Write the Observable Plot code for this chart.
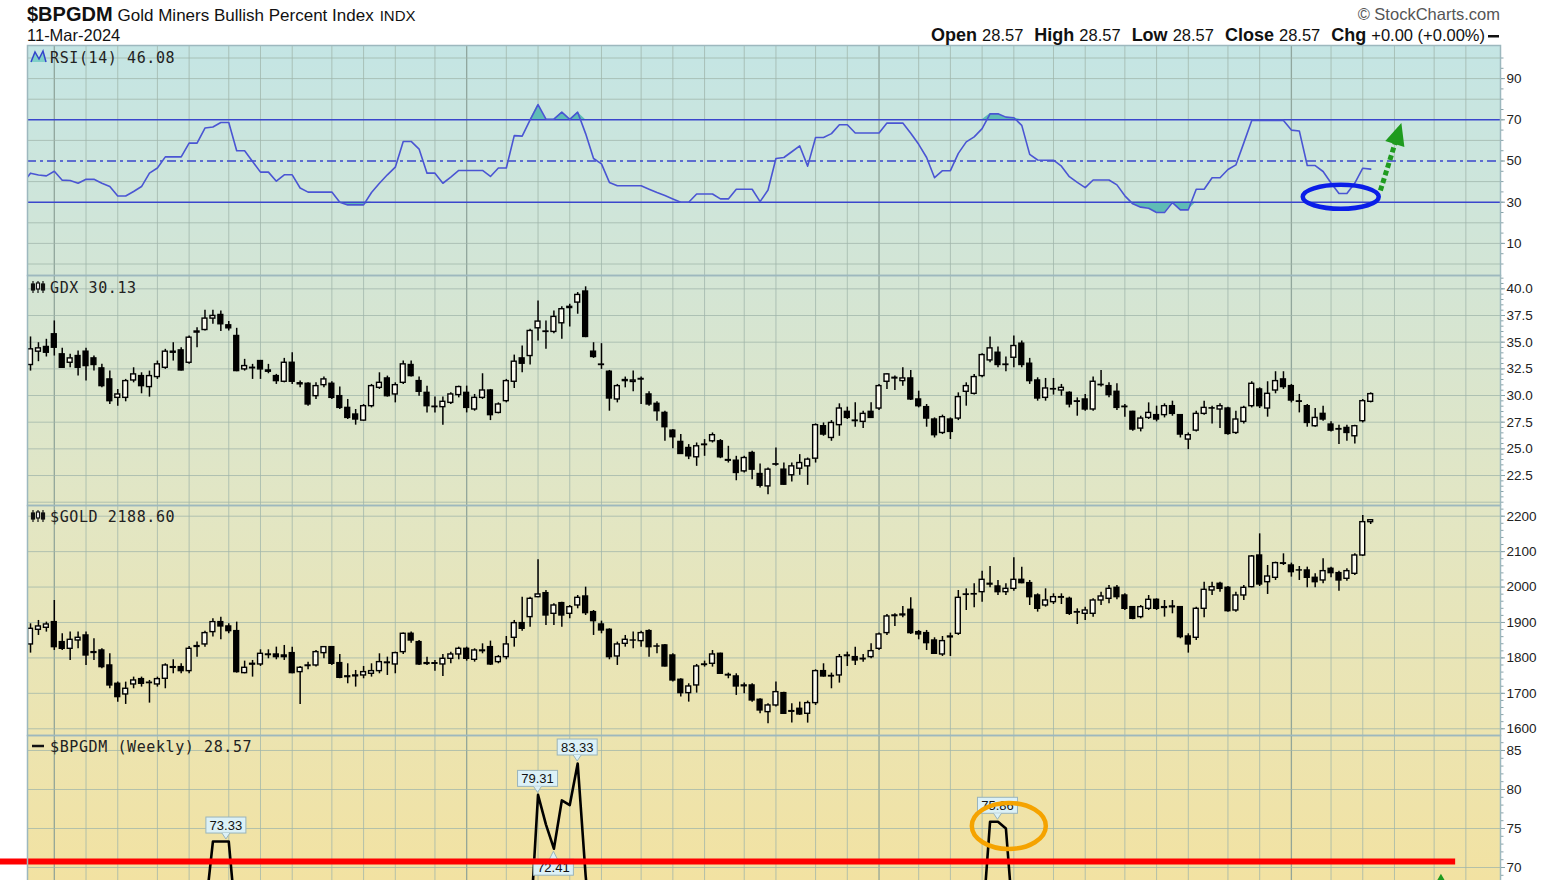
<!DOCTYPE html>
<html><head><meta charset="utf-8">
<script src="https://cdn.jsdelivr.net/npm/d3@7"></script>
<script src="https://cdn.jsdelivr.net/npm/@observablehq/plot@0.6"></script>
<style>
html,body{margin:0;padding:0;background:#fff;overflow:hidden;width:1568px;height:880px;}
#root{position:relative;width:1568px;height:880px;overflow:hidden;}
#bg{position:absolute;left:27px;top:45px;width:1473px;height:835px;
 background:linear-gradient(to bottom,#c4e5e4 0px,#d3e5d5 230px,#e2e6c4 460px,#ece4b0 690px,#f2e2a2 835px);}
#panels svg{position:absolute;left:0;}
#overlay{position:absolute;left:0;top:0;pointer-events:none;}
</style></head>
<body><div id="root"><div id="bg"></div><div id="panels"></div><svg id="overlay" width="1568" height="880"></svg></div>
<script>
// ---------------- DATA ----------------
const firstWeek = "2020-12-14";           // first weekly bar
const lastDateLabel = "11-Mar-2024";
// GDX weekly [open, high, low, close]
const gdx = [
[32.86,35.49,32.29,34.33],[34.11,34.95,33.17,34.42],[34.55,35.27,33.61,34.01],[35.74,36.99,33.70,34.48],[33.86,34.42,32.54,32.60],
[33.07,33.86,32.60,33.48],[33.70,34.17,31.82,32.60],[34.11,34.42,31.35,32.76],[33.48,33.70,32.29,32.86],[32.54,32.92,30.72,30.88],
[31.51,32.29,29.16,29.47],[29.78,30.57,29.00,30.10],[29.78,31.51,29.41,31.35],[31.41,32.60,31.19,31.98],[31.82,32.13,30.16,30.88],
[30.79,32.29,29.85,31.82],[31.73,33.23,31.51,32.92],[32.60,34.33,32.45,34.11],[34.11,34.95,33.23,34.01],[34.23,34.48,32.29,32.35],
[33.07,35.58,32.92,35.42],[35.90,36.36,34.48,36.00],[36.14,37.99,36.05,37.21],[37.21,37.99,36.68,37.46],[37.55,37.93,35.99,36.68],
[36.58,36.93,36.05,36.30],[35.58,36.30,32.23,32.29],[32.45,33.39,32.29,32.76],[32.60,32.92,31.51,32.55],[33.23,33.29,31.51,32.45],
[32.35,32.92,32.04,32.23],[31.82,31.98,31.04,31.35],[31.29,33.48,31.19,33.07],[33.07,34.01,31.04,31.29],[31.15,31.35,30.72,31.05],
[31.10,31.19,29.00,29.16],[29.94,31.19,29.63,30.88],[30.97,31.73,30.72,31.51],[31.10,31.29,29.63,29.78],[29.94,30.79,28.69,28.84],
[28.84,29.63,27.75,27.90],[28.22,28.69,27.22,27.75],[27.65,29.16,27.59,29.00],[29.00,31.04,28.84,30.88],[30.72,32.13,30.57,31.19],
[31.60,31.82,29.85,29.94],[30.10,31.19,29.31,30.97],[31.19,33.23,31.04,32.92],[32.86,33.23,31.73,31.82],[31.35,31.73,29.94,30.35],
[30.25,30.88,28.37,29.00],[28.91,29.85,28.37,28.95],[28.91,29.85,27.22,29.41],[29.31,30.25,29.16,30.10],[30.04,30.88,29.78,30.79],
[30.25,30.88,28.37,28.84],[28.69,30.10,28.53,29.78],[29.78,32.04,29.63,30.47],[30.47,30.57,27.65,28.16],[28.37,29.31,28.28,29.16],
[29.47,31.51,29.31,31.35],[31.29,33.79,30.66,33.17],[33.48,34.64,32.13,32.98],[33.70,36.21,32.86,36.05],[36.30,38.87,35.11,36.93],
[36.00,36.99,34.33,35.96],[35.96,37.93,35.80,37.37],[36.77,38.31,35.27,38.09],[38.20,38.56,36.43,38.31],[38.71,39.65,37.62,39.43],
[39.75,40.19,35.42,35.49],[34.11,34.95,33.48,33.61],[32.90,34.86,32.45,32.86],[32.23,32.35,28.53,29.72],[29.63,31.04,29.31,30.88],
[31.35,31.73,30.72,31.45],[31.27,32.29,30.35,31.41],[31.55,31.73,29.16,31.50],[30.10,30.35,29.00,29.16],[29.22,29.41,27.59,28.53],
[28.37,28.53,25.71,27.03],[26.71,26.81,25.02,26.09],[25.65,26.34,24.46,24.52],[25.08,25.40,23.99,24.30],[24.21,25.55,23.36,25.24],
[25.35,25.87,24.30,25.40],[25.71,26.49,25.55,26.28],[25.71,25.87,24.08,24.21],[23.95,25.24,23.67,23.89],[23.89,24.30,22.01,22.74],
[22.89,24.30,22.74,24.14],[24.61,24.77,22.11,23.05],[22.64,23.58,21.33,21.54],[21.48,23.20,20.70,23.05],[23.55,25.08,23.36,23.52],
[23.05,23.67,21.58,21.64],[22.52,23.67,21.89,23.36],[23.14,24.46,22.52,23.67],[23.36,24.14,21.58,23.99],[24.08,27.34,23.67,27.22],
[27.12,27.43,26.18,26.34],[26.02,27.65,25.71,27.43],[27.22,29.22,26.18,28.78],[28.47,28.91,27.75,27.90],[27.60,29.31,27.03,27.65],
[27.53,28.53,26.90,28.28],[28.47,29.31,27.84,27.90],[28.78,31.04,28.59,30.88],[31.29,32.04,30.57,31.98],[31.60,31.82,30.47,31.66],
[31.35,32.60,30.88,31.60],[31.60,32.35,29.53,29.63],[29.63,30.41,28.84,29.00],[28.91,29.16,27.03,27.84],[27.75,27.90,26.02,26.28],
[26.49,28.16,26.34,27.97],[27.75,27.90,25.87,26.59],[27.84,30.25,27.65,29.85],[30.35,31.19,29.00,30.88],[30.16,31.98,30.04,31.73],
[31.82,33.92,31.66,33.79],[33.29,35.49,33.07,34.42],[34.01,34.55,32.60,32.86],[32.90,33.61,32.23,32.86],[33.54,35.58,32.60,34.64],
[34.86,35.11,32.60,32.86],[32.98,33.48,31.04,31.35],[31.41,31.66,29.47,29.72],[29.78,31.60,29.47,30.66],[30.60,31.60,30.04,30.57],
[30.47,31.04,29.94,30.72],[30.25,30.35,28.84,29.16],[29.45,29.78,28.06,29.41],[29.63,30.10,28.53,28.69],[28.69,31.73,28.53,31.29],
[31.00,32.35,30.79,30.97],[30.88,31.19,29.78,30.04],[30.35,31.10,28.59,28.84],[28.95,29.16,27.97,28.91],[28.47,28.53,26.65,26.81],
[26.90,28.06,26.59,27.84],[27.90,29.31,27.75,28.37],[28.16,29.00,27.53,27.75],[28.16,29.22,27.90,29.00],[29.00,29.47,28.06,28.28],
[28.16,28.22,26.02,26.34],[25.87,26.49,24.93,26.28],[26.71,28.53,26.59,28.28],[28.28,29.47,28.16,28.84],[28.80,29.00,27.34,28.78],
[28.69,29.22,26.90,29.00],[28.78,28.91,26.28,26.40],[26.49,28.53,26.34,27.75],[27.53,29.00,27.34,28.84],[29.00,31.29,28.84,31.10],
[30.57,30.72,28.78,29.00],[28.78,31.29,27.97,30.16],[30.47,32.23,30.16,31.35],[31.51,32.23,30.57,30.79],[30.88,31.04,29.31,29.53],
[29.45,30.10,28.37,29.41],[29.00,29.16,27.03,27.43],[27.12,28.78,27.03,27.90],[28.28,29.00,27.59,27.75],[27.28,27.53,26.59,26.71],
[26.85,27.22,25.40,26.81],[26.96,27.22,25.71,26.49],[26.18,27.22,25.46,27.12],[27.59,29.63,27.43,29.47],[29.41,30.25,29.31,30.13]
];
// $GOLD weekly [open, high, low, close]
const gold = [
[1838.0,1896.3,1813.5,1882.2],[1879.3,1905.7,1863.4,1888.8],[1885.0,1901.0,1872.8,1894.4],[1901.0,1962.1,1821.0,1830.4],[1844.6,1868.1,1821.0,1825.7],
[1825.7,1872.8,1792.8,1851.1],[1849.2,1872.8,1825.7,1856.8],[1863.4,1872.8,1778.7,1806.9],[1814.0,1854.0,1792.8,1816.3],[1821.0,1825.7,1769.3,1774.0],
[1778.7,1811.6,1712.9,1722.3],[1727.0,1731.7,1675.2,1689.4],[1696.9,1731.7,1668.7,1712.9],[1725.1,1745.8,1712.9,1736.4],[1740.1,1745.8,1717.6,1727.0],
[1730.0,1736.4,1672.4,1728.9],[1725.1,1745.8,1717.6,1740.1],[1741.1,1783.4,1712.9,1778.7],[1772.0,1794.7,1755.2,1774.0],[1774.0,1783.4,1755.2,1762.7],
[1762.7,1832.3,1755.2,1825.7],[1831.0,1844.6,1802.2,1833.3],[1838.0,1875.6,1830.4,1870.0],[1872.8,1910.4,1858.7,1901.0],[1901.0,1915.1,1851.1,1888.8],
[1888.8,1896.3,1868.1,1875.6],[1875.6,1901.0,1757.1,1759.9],[1757.1,1790.9,1755.2,1772.1],[1781.0,1792.8,1745.8,1783.4],[1781.5,1822.9,1775.9,1811.6],
[1808.0,1822.9,1797.5,1809.7],[1809.7,1830.4,1794.7,1802.2],[1806.9,1835.2,1792.8,1802.2],[1813.5,1830.4,1755.2,1757.1],[1759.9,1775.9,1668.7,1772.1],
[1777.0,1788.1,1766.5,1778.7],[1778.7,1821.0,1774.0,1816.3],[1813.5,1832.3,1797.5,1830.4],[1830.4,1832.3,1778.7,1783.4],[1785.3,1809.7,1741.1,1743.9],
[1748.0,1783.4,1727.0,1745.8],[1748.0,1764.6,1717.6,1750.5],[1750.5,1775.9,1741.1,1759.9],[1755.2,1783.4,1745.8,1762.7],[1762.7,1811.6,1755.2,1788.1],
[1787.0,1802.2,1750.5,1785.3],[1781.5,1816.3,1755.2,1813.5],[1816.3,1870.0,1809.7,1868.1],[1868.1,1872.8,1841.7,1849.2],[1844.6,1849.2,1778.7,1781.5],
[1783.0,1802.2,1778.7,1785.3],[1785.0,1792.8,1762.7,1783.4],[1781.5,1809.7,1747.7,1797.5],[1797.5,1816.3,1783.4,1809.7],[1809.7,1830.4,1794.7,1825.7],
[1825.7,1830.4,1790.9,1797.5],[1794.7,1825.7,1788.1,1821.0],[1819.0,1839.8,1811.6,1821.0],[1830.4,1847.4,1778.7,1781.5],[1788.1,1806.9,1783.4,1802.2],
[1802.2,1860.5,1794.7,1838.0],[1856.8,1905.7,1830.4,1898.2],[1898.2,1971.5,1875.6,1882.2],[1915.1,1971.5,1886.9,1966.8],[1971.5,2076.9,1969.6,1979.1],
[1982.8,1990.3,1891.6,1919.8],[1924.5,1952.7,1891.6,1948.0],[1954.6,1957.4,1886.9,1919.8],[1924.5,1948.0,1910.4,1943.3],[1948.0,1976.2,1938.6,1969.6],
[1973.4,1999.7,1919.8,1926.4],[1929.2,1933.9,1863.4,1903.8],[1894.4,1903.8,1868.1,1877.5],[1879.3,1882.2,1794.7,1802.2],[1804.1,1844.6,1778.7,1838.0],
[1839.8,1863.4,1830.4,1851.1],[1849.0,1872.8,1825.7,1849.2],[1847.4,1875.6,1830.4,1870.0],[1875.6,1879.3,1802.2,1830.4],[1832.0,1839.8,1811.6,1832.3],
[1835.2,1838.0,1774.0,1775.9],[1806.9,1811.6,1731.7,1736.4],[1738.3,1741.1,1689.4,1700.6],[1700.6,1727.0,1675.2,1719.4],[1722.3,1781.5,1700.6,1775.9],
[1780.0,1790.9,1774.0,1781.5],[1783.4,1821.0,1774.0,1809.7],[1811.6,1813.5,1753.3,1755.2],[1752.0,1757.1,1741.1,1750.5],[1747.7,1755.2,1694.1,1719.4],
[1720.0,1728.9,1698.8,1722.3],[1722.3,1727.0,1675.2,1680.0],[1681.8,1684.7,1642.3,1651.7],[1647.0,1670.6,1614.1,1665.8],[1665.8,1731.7,1661.1,1703.4],
[1700.6,1703.4,1640.4,1642.3],[1648.0,1670.6,1616.0,1649.8],[1656.4,1675.2,1637.6,1640.4],[1642.3,1678.1,1616.0,1672.4],[1672.4,1766.5,1665.8,1762.7],
[1762.7,1783.4,1745.8,1747.7],[1749.0,1757.1,1712.9,1747.7],[1750.5,1809.7,1728.9,1802.2],[1805.0,1816.3,1775.9,1806.9],[1802.2,1830.4,1778.7,1792.8],
[1796.0,1809.7,1788.1,1797.5],[1802.2,1839.8,1797.5,1819.1],[1825.7,1870.0,1821.0,1866.2],[1870.0,1922.6,1863.4,1917.0],[1918.0,1924.5,1888.8,1919.8],
[1920.0,1945.2,1913.2,1922.6],[1935.8,1969.6,1866.2,1870.0],[1872.8,1877.5,1851.1,1866.2],[1870.0,1877.5,1821.0,1841.7],[1849.2,1856.8,1809.7,1811.6],
[1809.7,1860.5,1804.1,1847.4],[1858.0,1870.0,1804.1,1860.5],[1868.1,1990.3,1863.4,1969.6],[1978.0,1995.0,1933.9,1979.1],[1980.0,2009.2,1941.4,1979.1],
[1985.6,2044.9,1957.4,2020.4],[2007.0,2058.1,1997.9,2009.2],[2001.6,2018.6,1976.2,1985.6],[1985.6,2009.2,1976.2,1995.0],[1995.0,2082.5,1988.5,2020.4],
[2020.4,2056.2,2009.2,2011.1],[2011.1,2018.6,1948.0,1971.5],[1976.2,1980.9,1929.2,1938.6],[1948.0,1995.0,1943.3,1962.1],[1957.4,1980.9,1950.8,1971.5],
[1970.0,1980.9,1950.8,1971.5],[1966.8,1971.5,1919.8,1924.5],[1928.0,1938.6,1894.4,1929.2],[1924.5,1943.3,1905.7,1933.9],[1924.5,1966.8,1915.1,1962.1],
[1962.1,1985.6,1948.0,1973.4],[1966.8,2004.4,1952.7,1995.0],[1997.9,2004.4,1964.0,1971.5],[1976.2,1980.9,1933.9,1938.6],[1943.3,1945.2,1907.6,1910.4],
[1915.1,1948.0,1910.4,1943.3],[1938.6,1976.2,1933.9,1964.0],[1964.0,1966.8,1933.9,1938.6],[1941.0,1962.1,1915.1,1943.3],[1943.0,1962.1,1924.5,1945.2],
[1943.3,1945.2,1854.0,1858.7],[1860.5,1868.1,1813.5,1838.0],[1856.8,1943.3,1849.2,1938.6],[1938.6,2013.8,1913.2,1992.2],[1990.3,2013.8,1976.2,1999.7],
[2009.2,2013.8,1985.6,1995.0],[1997.9,2001.6,1929.2,1932.0],[1933.9,1985.6,1929.2,1976.2],[1976.2,2004.4,1962.1,1997.9],[1999.7,2089.1,1997.9,2086.3],
[2089.1,2150.2,2001.6,2007.3],[2013.8,2060.9,1979.1,2029.8],[2026.1,2070.3,2018.6,2067.5],[2067.0,2093.8,2060.9,2065.6],[2060.9,2067.5,2028.0,2042.1],
[2047.0,2058.1,2018.6,2046.8],[2046.8,2056.2,1997.9,2026.1],[2026.1,2037.4,1997.9,2013.8],[2018.6,2079.7,2009.2,2044.9],[2051.5,2056.2,2026.1,2039.3],
[2039.3,2044.9,1988.5,2018.6],[2023.3,2051.5,2016.7,2044.9],[2037.4,2093.8,2032.7,2089.1],[2089.1,2202.0,2086.3,2183.2],[2183.2,2189.7,2176.6,2188.6]
];
// RSI(14) of $BPGDM, weekly, starting one week before the first bar
const rsi = [39.2,
44.1,43.2,42.8,45.0,40.7,40.5,39.2,41.1,41.1,39.2,37.6,33.0,33.0,35.2,37.6,44.1,46.6,52.0,52.0,52.0,
58.7,58.7,66.0,66.5,68.7,68.7,55.0,55.0,49.8,44.6,44.6,40.2,43.3,43.3,36.9,34.9,34.9,34.9,34.9,30.0,
28.7,28.7,28.7,34.7,39.2,43.3,47.0,59.5,59.5,55.8,44.1,44.1,39.2,42.2,45.4,45.4,45.4,45.4,42.5,46.6,
46.6,62.3,62.1,70.0,77.4,70.3,70.3,73.7,70.2,73.7,63.3,51.2,48.6,39.6,38.0,38.0,38.0,38.0,36.3,34.7,
33.2,31.6,30.0,30.0,34.0,34.0,34.0,31.6,31.6,36.3,36.3,36.3,30.3,35.9,51.2,51.7,54.5,57.3,47.5,61.4,
61.4,63.3,67.6,67.6,63.6,63.6,63.6,63.6,68.4,68.4,68.4,63.5,58.1,51.7,41.9,45.3,45.3,53.7,59.3,61.7,
65.7,72.9,72.9,71.3,71.0,67.3,53.2,50.5,50.4,50.4,47.5,42.4,39.6,37.1,40.8,40.8,40.8,38.4,33.1,29.2,
27.6,27.1,25.0,25.0,29.8,26.3,26.3,36.3,36.3,41.9,41.9,45.9,48.1,58.8,69.7,69.7,69.7,69.7,69.7,65.0,
64.6,47.8,47.8,44.9,39.3,34.2,34.2,39.3,46.5,46.08];
// $BPGDM weekly: only the stretches that reach into the visible part of the panel
const bpWeek  = [21, 22, 23, 24, 25, 26,   62, 63, 64, 65, 66, 67, 68, 69, 70, 71,   119, 120, 121, 122, 123, 124];
const bpValue = [55, 64, 73.33, 73.33, 73.33, 62,   55, 62, 79.31, 75.5, 72.41, 78.6, 78.0, 83.33, 69.0, 58,   55, 62, 75.86, 75.86, 75.0, 62];
const bpLast = 28.57;
// value callouts on $BPGDM
const calloutWeek  = [24.7, 64, 66, 69, 122];
const calloutValue = [73.33, 79.31, 72.41, 83.33, 75.86];
const calloutSide  = ["above", "above", "below", "above", "above"];
// annotations (drawn by the author)
const redLineLevel = 70.77;
const redLineFrom = "2020-11-17", redLineTo = "2024-05-25";

// ---------------- SET-UP ----------------
const DAY = 864e5;
const t0 = new Date(firstWeek + "T00:00:00Z").getTime();
const weekDate = i => new Date(t0 + i * 7 * DAY);
const xDomain = [new Date("2020-12-11T08:00:00Z"), new Date("2024-07-03T14:00:00Z")];
const monthStarts = d3.utcMonths(new Date("2021-01-01"), new Date("2024-07-01")).map(m => d3.utcMonday.ceil(m));
const monthLines = monthStarts.filter(d => d.getUTCMonth() !== 0);
const yearLines = monthStarts.filter(d => d.getUTCMonth() === 0);
const HALF = 2.15 * DAY;
const FONT = "Liberation Sans, Arial, sans-serif";
const GRID = "#9fb4aa";

const ohlc = arr => arr.map(([open, high, low, close], i) => ({date: weekDate(i), open, high, low, close}));
const gdxRows = ohlc(gdx), goldRows = ohlc(gold);
const rsiRows = rsi.map((v, k) => ({date: weekDate(k - 1), v}));
const bpRows = bpWeek.map((w, k) => ({date: weekDate(w), v: bpValue[k]}));

function candles(rows) {
  const up = rows.filter(d => d.close >= d.open), dn = rows.filter(d => d.close < d.open);
  const x1 = d => new Date(+d.date - HALF), x2 = d => new Date(+d.date + HALF);
  return [
    Plot.ruleX(rows, {x: "date", y1: "low", y2: "high", stroke: "#000", strokeWidth: 1.5, clip: true}),
    Plot.rect(up, {x1, x2, y1: "open", y2: "close", fill: "#fbfbf0", stroke: "#000", strokeWidth: 1.4, clip: true}),
    Plot.rect(dn, {x1, x2, y1: "open", y2: "close", fill: "#000", stroke: "#000", strokeWidth: 1.4, clip: true})
  ];
}

function panel(top, domain, gridVals, ticks, minor, fmt, marks) {
  const svg = Plot.plot({
    width: 1568, height: 230, marginLeft: 27, marginRight: 68, marginTop: 0, marginBottom: 0,
    style: {background: "transparent", fontFamily: FONT, overflow: "visible", color: "#222"},
    x: {type: "utc", domain: xDomain, axis: null},
    y: {domain, axis: null},
    marks: [
      Plot.ruleX(monthLines, {stroke: GRID, strokeOpacity: 0.75, strokeWidth: 1}),
      Plot.ruleX(yearLines, {stroke: "#8a9f96", strokeOpacity: 0.9, strokeWidth: 1.3}),
      Plot.ruleY(gridVals, {stroke: GRID, strokeOpacity: 0.75, strokeWidth: 1}),
      ...marks,
      Plot.frame({stroke: "#9db8be", strokeWidth: 1.5}),
      Plot.axisY({anchor: "right", label: null, ticks: minor, tickSize: 2.5, tickFormat: () => "", stroke: "#8aa4aa"}),
      Plot.axisY({anchor: "right", label: null, ticks, tickSize: 4, tickPadding: 2, tickFormat: fmt, fontSize: 13.5, fill: "#222", stroke: "#8aa4aa"})
    ]
  });
  svg.style.top = top + "px";
  document.getElementById("panels").appendChild(svg);
  return svg;
}

function ellipseMark(list) {
  return (index, scales) => {
    const g = d3.create("svg:g");
    for (const a of list) {
      g.append("ellipse").attr("cx", scales.x(a.date)).attr("cy", scales.y(a.value))
        .attr("rx", a.rx).attr("ry", a.ry).attr("fill", "none")
        .attr("stroke", a.color).attr("stroke-width", a.width);
    }
    return g.node();
  };
}

function arrowMark(a) {
  return (index, scales) => {
    const g = d3.create("svg:g");
    const x1 = scales.x(a.from), y1 = scales.y(a.fromValue), x2 = scales.x(a.to), y2 = scales.y(a.toValue);
    const L = Math.hypot(x2 - x1, y2 - y1), ux = (x2 - x1) / L, uy = (y2 - y1) / L;
    const hl = 22, hw = 10;
    const bx = x2 - ux * hl, by = y2 - uy * hl;
    g.append("line").attr("x1", x1).attr("y1", y1).attr("x2", bx + ux * 2).attr("y2", by + uy * 2)
      .attr("stroke", a.color).attr("stroke-width", 5).attr("stroke-dasharray", "5,3");
    g.append("path").attr("d", `M${x2},${y2}L${bx - uy * hw},${by + ux * hw}L${bx + uy * hw},${by - ux * hw}Z`).attr("fill", a.color);
    return g.node();
  };
}

function calloutMark(rows) {
  return (index, scales) => {
    const g = d3.create("svg:g").attr("font-family", FONT).attr("font-size", 13);
    for (const c of rows) {
      const x = scales.x(c.date), y = scales.y(c.value);
      const w = 40, h = 16;
      const above = c.side === "above";
      const by = above ? y - 8 - h : y + 11;
      const bx = x - w / 2;
      g.append("rect").attr("x", bx).attr("y", by).attr("width", w).attr("height", h)
        .attr("fill", "#dcf1f7").attr("stroke", "#9ab4bb");
      const py = above ? by + h : by;
      const tip = above ? y - 2 : y + 3;
      g.append("path").attr("d", `M${x - 4},${py}L${x},${tip}L${x + 4},${py}`).attr("fill", "#dcf1f7").attr("stroke", "#9ab4bb");
      g.append("text").attr("x", x).attr("y", by + h - 3.5).attr("text-anchor", "middle").attr("fill", "#111").text(c.text);
    }
    return g.node();
  };
}

// ---------------- PANELS ----------------
panel(45, [-5.58, 106.07], [0, 10, 20, 40, 60, 80, 90, 100], [10, 30, 50, 70, 90], d3.range(0, 101, 5), d3.format("d"), [
  Plot.areaY(rsiRows, {x: "date", y1: 70, y2: d => Math.max(70, d.v), fill: "#5fbcb6", clip: true}),
  Plot.areaY(rsiRows, {x: "date", y1: 30, y2: d => Math.min(30, d.v), fill: "#5fbcb6", clip: true}),
  Plot.ruleY([70, 30], {stroke: "#3a46cc", strokeWidth: 1.6}),
  Plot.ruleY([50], {stroke: "#3a46cc", strokeWidth: 1.6, strokeDasharray: "9,4,3,4"}),
  Plot.lineY(rsiRows, {x: "date", y: "v", stroke: "#4a55d3", strokeWidth: 1.6, clip: true}),
  ellipseMark([{date: new Date("2024-02-14T00:00:00Z"), value: 32.4, rx: 38, ry: 12, color: "#0a1ee8", width: 4.5}]),
  arrowMark({from: new Date("2024-03-20T00:00:00Z"), fromValue: 35.4, to: new Date("2024-04-07T12:00:00Z"), toValue: 68.2, color: "#1e9b1e"})
]);

panel(275, [19.69, 41.25], d3.range(20, 41, 2.5), d3.range(22.5, 40.1, 2.5), d3.range(20, 41.1, 0.5), d3.format(".1f"), candles(gdxRows));

panel(505, [1581.0, 2230.2], d3.range(1600, 2201, 100), d3.range(1600, 2201, 100), d3.range(1600, 2221, 20), d3.format("d"), candles(goldRows));

panel(735, [57.44, 86.92], [60, 65, 70, 75, 80, 85], [70, 75, 80, 85], d3.range(69, 87, 1), d3.format("d"), [
  Plot.lineY(bpRows, {x: "date", y: "v", stroke: "#000", strokeWidth: 2.6, clip: true}),
  calloutMark(calloutWeek.map((w, k) => ({date: weekDate(w), value: calloutValue[k], side: calloutSide[k], text: calloutValue[k].toFixed(2)}))),
  ellipseMark([{date: new Date("2023-04-27T00:00:00Z"), value: 75.26, rx: 37, ry: 23, color: "#f5a300", width: 4.5}]),
  Plot.ruleY([{v: redLineLevel, a: new Date(redLineFrom), b: new Date(redLineTo)}], {y: "v", x1: "a", x2: "b", stroke: "#ff0000", strokeWidth: 6}),
  Plot.dot([{d: new Date("2024-05-12T00:00:00Z"), v: 67.6}], {x: "d", y: "v", symbol: "triangle", r: 8, fill: "#1e9b1e", stroke: "none"})
]);

// ---------------- HEADER & PANEL TITLES ----------------
const ov = d3.select("#overlay");
const t1 = ov.append("text").attr("x", 27).attr("y", 21).attr("font-family", FONT).attr("fill", "#111");
t1.append("tspan").attr("font-size", 20).attr("font-weight", "bold").text("$BPGDM");
t1.append("tspan").attr("dx", 5).attr("font-size", 17).text("Gold Miners Bullish Percent Index");
t1.append("tspan").attr("dx", 6).attr("font-size", 15).text("INDX");
ov.append("text").attr("x", 27).attr("y", 41).attr("font-family", FONT).attr("font-size", 16.5).attr("fill", "#111").text(lastDateLabel);
ov.append("text").attr("x", 1500).attr("y", 20).attr("text-anchor", "end").attr("font-family", FONT).attr("font-size", 16.5).attr("fill", "#555").text("© StockCharts.com");
const v = bpLast.toFixed(2);
const t2 = ov.append("text").attr("x", 1485).attr("y", 41).attr("text-anchor", "end").attr("font-family", FONT).attr("font-size", 16.5).attr("fill", "#111");
[["Open", v], ["High", v], ["Low", v], ["Close", v], ["Chg", "+0.00 (+0.00%)"]].forEach(([k, val], j) => {
  t2.append("tspan").attr("dx", j ? 11 : 0).attr("font-weight", "bold").attr("font-size", 18).text(k);
  t2.append("tspan").attr("dx", 5).text(val);
});
ov.append("rect").attr("x", 1488).attr("y", 35).attr("width", 11).attr("height", 2.5).attr("fill", "#111");

const titles = [
  [57, `RSI(14) ${rsi[rsi.length - 1].toFixed(2)}`],
  [287, `GDX ${gdx[gdx.length - 1][3].toFixed(2)}`],
  [516, `$GOLD ${gold[gold.length - 1][3].toFixed(2)}`],
  [746, `$BPGDM (Weekly) ${bpLast.toFixed(2)}`]
];
titles.forEach(([cy, s]) => {
  ov.append("text").attr("x", 50).attr("y", cy + 5.5).attr("font-family", "DejaVu Sans Mono, monospace").attr("font-size", 15)
    .attr("letter-spacing", 0.6).attr("fill", "#222").text(s);
});
// icons
ov.append("path").attr("d", "M31,62L35,52L39,59L43,51L46,62Z").attr("fill", "#7fcfc8");
ov.append("path").attr("d", "M31,62L35,52L39,59L43,51L46,62").attr("fill", "none").attr("stroke", "#3344cc").attr("stroke-width", 1.5);
[287, 516].forEach(cy => {
  const g = ov.append("g").attr("stroke", "#111").attr("stroke-width", 1.2);
  g.append("line").attr("x1", 33).attr("x2", 33).attr("y1", cy - 6).attr("y2", cy + 6);
  g.append("rect").attr("x", 31.5).attr("y", cy - 3).attr("width", 3).attr("height", 6).attr("fill", "#111");
  g.append("line").attr("x1", 38).attr("x2", 38).attr("y1", cy - 6).attr("y2", cy + 6);
  g.append("rect").attr("x", 36.5).attr("y", cy - 4).attr("width", 3).attr("height", 6).attr("fill", "#fff");
  g.append("line").attr("x1", 43).attr("x2", 43).attr("y1", cy - 6).attr("y2", cy + 6);
  g.append("rect").attr("x", 41.5).attr("y", cy - 3).attr("width", 3).attr("height", 6).attr("fill", "#111");
});
ov.append("line").attr("x1", 32).attr("x2", 44).attr("y1", 746).attr("y2", 746).attr("stroke", "#111").attr("stroke-width", 2.5);
</script></body></html>
